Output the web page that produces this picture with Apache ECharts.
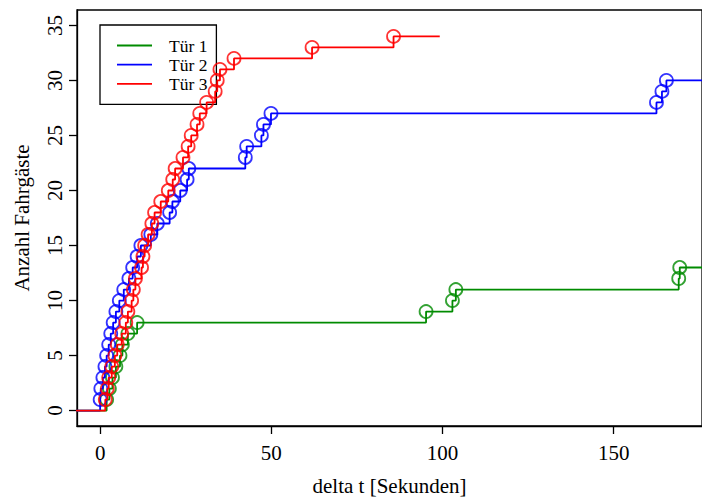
<!DOCTYPE html>
<html>
<head>
<meta charset="utf-8">
<script src="https://cdn.jsdelivr.net/npm/echarts@6/dist/echarts.min.js"></script>
<style>
  html, body { margin: 0; padding: 0; background: #fff; }
  #chart { width: 702px; height: 501px; }
</style>
</head>
<body>
<div id="chart"></div>
<script>
// Boarding times (seconds after door opening) for each door; the count rises by one per passenger.
const tuer1Zeit = [1.9, 2.7, 3.6, 4.6, 5.8, 6.5, 8.1, 10.8, 95.2, 102.9, 103.9, 169.0, 169.3];
const tuer1Anzahl = [1, 2, 3, 4, 5, 6, 7, 8, 9, 10, 11, 12, 13];

const tuer2Zeit = [0.0, 0.2, 0.8, 1.4, 1.9, 2.5, 3.1, 3.8, 4.6, 5.6, 6.9, 8.4, 9.5, 10.8, 11.9,
                   14.8, 16.7, 20.3, 21.1, 23.4, 25.4, 25.9, 42.4, 42.8, 47.1, 47.7, 49.9,
                   162.5, 164.1, 165.4];
const tuer2Anzahl = [1, 2, 3, 4, 5, 6, 7, 8, 9, 10, 11, 12, 13, 14, 15, 16, 17, 18, 19, 20,
                     21, 22, 23, 24, 25, 26, 27, 28, 29, 30];

const tuer3Zeit = [1.5, 2.1, 2.5, 3.4, 4.3, 5.0, 6.3, 7.5, 8.1, 9.2, 9.7, 10.3, 12.1, 12.5, 13.0,
                   14.0, 15.1, 15.9, 17.7, 19.9, 21.2, 21.9, 24.2, 25.7, 26.6, 28.3, 29.1, 31.1,
                   33.6, 34.2, 35.0, 39.1, 61.9, 85.7];
const tuer3Anzahl = [1, 2, 3, 4, 5, 6, 7, 8, 9, 10, 11, 12, 13, 14, 15, 16, 17, 18, 19, 20,
                     21, 22, 23, 24, 25, 26, 27, 28, 29, 30, 31, 32, 33, 34];

// Where each step curve starts (count 0) and where its last level ends.
const kurveStart = [-10, -10, -10];
const kurveEnde = [190, 190, 99.2];

const xTicks = [0, 50, 100, 150];
const yTicks = [0, 5, 10, 15, 20, 25, 30, 35];

const namen = ['Tür 1', 'Tür 2', 'Tür 3'];
const farben = ['#008B00', '#0000FF', '#FF0000'];
const zeiten = [tuer1Zeit, tuer2Zeit, tuer3Zeit];
const anzahlen = [tuer1Anzahl, tuer2Anzahl, tuer3Anzahl];

const SERIF = '"Liberation Serif", "DejaVu Serif", serif';
const FS = 21;

function stufen(i) {
  const pts = [[kurveStart[i], 0]];
  zeiten[i].forEach((t, k) => pts.push([t, anzahlen[i][k]]));
  pts.push([kurveEnde[i], anzahlen[i][anzahlen[i].length - 1]]);
  return pts;
}

const series = [];
namen.forEach((name, i) => {
  series.push({
    name: name,
    type: 'line',
    step: 'end',
    data: stufen(i),
    symbol: 'none',
    clip: true,
    lineStyle: { color: farben[i], width: 1.8 },
    itemStyle: { color: farben[i] },
    animation: false,
    z: 2 + i
  });
  series.push({
    name: name + ' Einstieg',
    type: 'scatter',
    data: zeiten[i].map((t, k) => [t, anzahlen[i][k]]),
    symbol: 'circle',
    symbolSize: 13,
    itemStyle: { color: 'rgba(0,0,0,0)', borderColor: farben[i], borderWidth: 1.8 },
    animation: false,
    z: 2 + i
  });
});

const chart = echarts.init(document.getElementById('chart'), null, { renderer: 'svg' });
chart.setOption({
  backgroundColor: '#fff',
  animation: false,
  grid: {
    left: 77, top: 10, right: -1, bottom: 74,
    show: true, borderColor: '#000', borderWidth: 1.3, backgroundColor: 'transparent'
  },
  legend: {
    data: namen.map((n, i) => ({ name: n, icon: 'rect', itemStyle: { color: farben[i] } })),
    orient: 'vertical',
    left: 100, top: 25,
    padding: [11.5, 9, 11.5, 17],
    itemWidth: 35, itemHeight: 1.8, itemGap: 1.2,
    borderColor: '#000', borderWidth: 1.3, borderRadius: 0,
    backgroundColor: 'transparent',
    textStyle: { fontFamily: SERIF, fontSize: 17.5, color: '#000', padding: [0, 0, 0, 12] }
  },
  xAxis: {
    type: 'value',
    min: -6.76, max: 175.8,
    name: 'delta t [Sekunden]',
    nameLocation: 'middle',
    nameGap: 49,
    nameTextStyle: { fontFamily: SERIF, fontSize: FS, color: '#000' },
    axisLine: { show: true, onZero: false, lineStyle: { color: '#000', width: 1.3 } },
    axisTick: { show: true, length: 8, lineStyle: { color: '#000', width: 1.3 }, customValues: xTicks },
    axisLabel: { fontFamily: SERIF, fontSize: FS, color: '#000', margin: 16, customValues: xTicks },
    splitLine: { show: false }
  },
  yAxis: {
    type: 'value',
    min: -1.4, max: 36.4,
    name: 'Anzahl Fahrgäste',
    nameLocation: 'middle',
    nameGap: 45,
    nameTextStyle: { fontFamily: SERIF, fontSize: FS, color: '#000' },
    axisLine: { show: true, onZero: false, lineStyle: { color: '#000', width: 1.3 } },
    axisTick: { show: true, length: 8, lineStyle: { color: '#000', width: 1.3 }, customValues: yTicks },
    axisLabel: { fontFamily: SERIF, fontSize: FS, color: '#000', margin: 12, rotate: 90, customValues: yTicks },
    splitLine: { show: false }
  },
  series: series
});
</script>
</body>
</html>
